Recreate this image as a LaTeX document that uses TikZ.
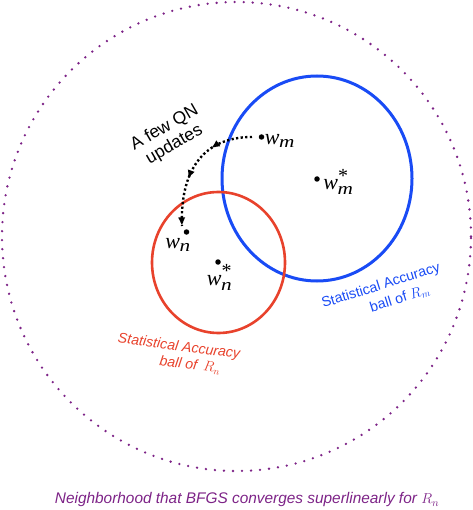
\documentclass[tikz,border=0pt]{standalone}
\usepackage{fontspec}
\setmainfont{Liberation Sans}
\newfontfamily\tmsfont{Liberation Serif}
\usetikzlibrary{arrows.meta,decorations.markings}
\definecolor{ballblue}{RGB}{25,75,245}
\definecolor{ballred}{RGB}{232,66,44}
\definecolor{nbpurple}{RGB}{125,35,135}
\newcommand{\wbig}{\hbox{\tmsfont\itshape\fontsize{22}{22}\selectfont w}}
\newcommand{\wsub}[1]{\hbox{\tmsfont\itshape\fontsize{17}{17}\selectfont\kern-0.5pt\scalebox{1.25}[1]{#1}}}
\newcommand{\wstar}{\hbox{\tmsfont\fontsize{20}{20}\selectfont *}}
\begin{document}
\begin{tikzpicture}[x=1pt,y=1pt,
  dot/.style={circle,fill=black,inner sep=0pt,minimum size=5.5pt},
  mlbl/.style={inner sep=0pt,font=\fontsize{20}{22}\selectfont},
  balllbl/.style={inner sep=0pt,font=\fontsize{14.2}{16}\selectfont\itshape},
  qnpath/.style={line width=2.4pt,dash pattern=on 2.2pt off 2.4pt,
    decoration={markings,
      mark=at position 0.33 with {\arrow{Latex[length=8.5pt,width=7.5pt]}},
      mark=at position 0.63 with {\arrow{Latex[length=8.5pt,width=7.5pt]}},
      mark=at position 0.999 with {\arrow{Latex[length=8.5pt,width=7.5pt]}}},
    postaction={decorate}}
]
\useasboundingbox (0,0) rectangle (472,-510);
% neighbourhood
\draw[nbpurple,line width=2.6pt,line cap=round,dash pattern=on 0pt off 9.03pt]
  (236.5,-236.5) ellipse [x radius=234.5,y radius=234.5];
% balls
\draw[ballblue,line width=3pt] (317,-178.5) ellipse [x radius=95,y radius=102.5];
\draw[ballred,line width=2.6pt] (218.5,-262.5) ellipse [x radius=66.5,y radius=70.5];
% points
\node[dot] (wm) at (261.5,-137) {};
\node[dot] (wms) at (317,-179) {};
\node[dot] (wn) at (186.5,-232) {};
\node[dot] (wns) at (218,-262) {};
\node[mlbl] (lwm) at (280,-141) {$\wbig_{\wsub{m}}$};
\node[mlbl] (lwms) at (338.5,-182) {$\wbig_{\wsub{m}}^{\wstar}$};
\node[mlbl] (lwn) at (178,-245) {$\wbig_{\wsub{n}}$};
\node[mlbl] (lwns) at (219.5,-277.5) {$\wbig_{\wsub{n}}^{\wstar}$};
% QN path
\coordinate (qs) at (252,-137);
\coordinate (qe) at (182,-226);
\draw[qnpath] (qs) .. controls (200,-137) and (180,-175) .. (qe);
\node[rotate=30,align=center,inner sep=0pt,font=\fontsize{17.5}{19.5}\selectfont] (qn) at (169.5,-136.5) {A few QN\\updates};
% ball labels
\node[balllbl,ballred,rotate=-7.5] (rl1) at (179,-347) {Statistical Accuracy};
\node[balllbl,ballred,rotate=-7.5] (rl2) at (190,-365) {ball of \,$R_n$};
\node[balllbl,ballblue,rotate=17.4,font=\fontsize{14.2}{16}\selectfont\upshape] (bl1) at (381,-286) {Statistical Accuracy};
\node[balllbl,ballblue,rotate=17.4,font=\fontsize{14.2}{16}\selectfont\upshape] (bl2) at (400,-299) {ball of $R_m$};
% bottom caption
\node[nbpurple,inner sep=0pt,font=\fontsize{15.4}{17}\selectfont\itshape] (cap) at (247,-500) {Neighborhood that BFGS converges superlinearly for $R_n$};
\end{tikzpicture}
\end{document}
